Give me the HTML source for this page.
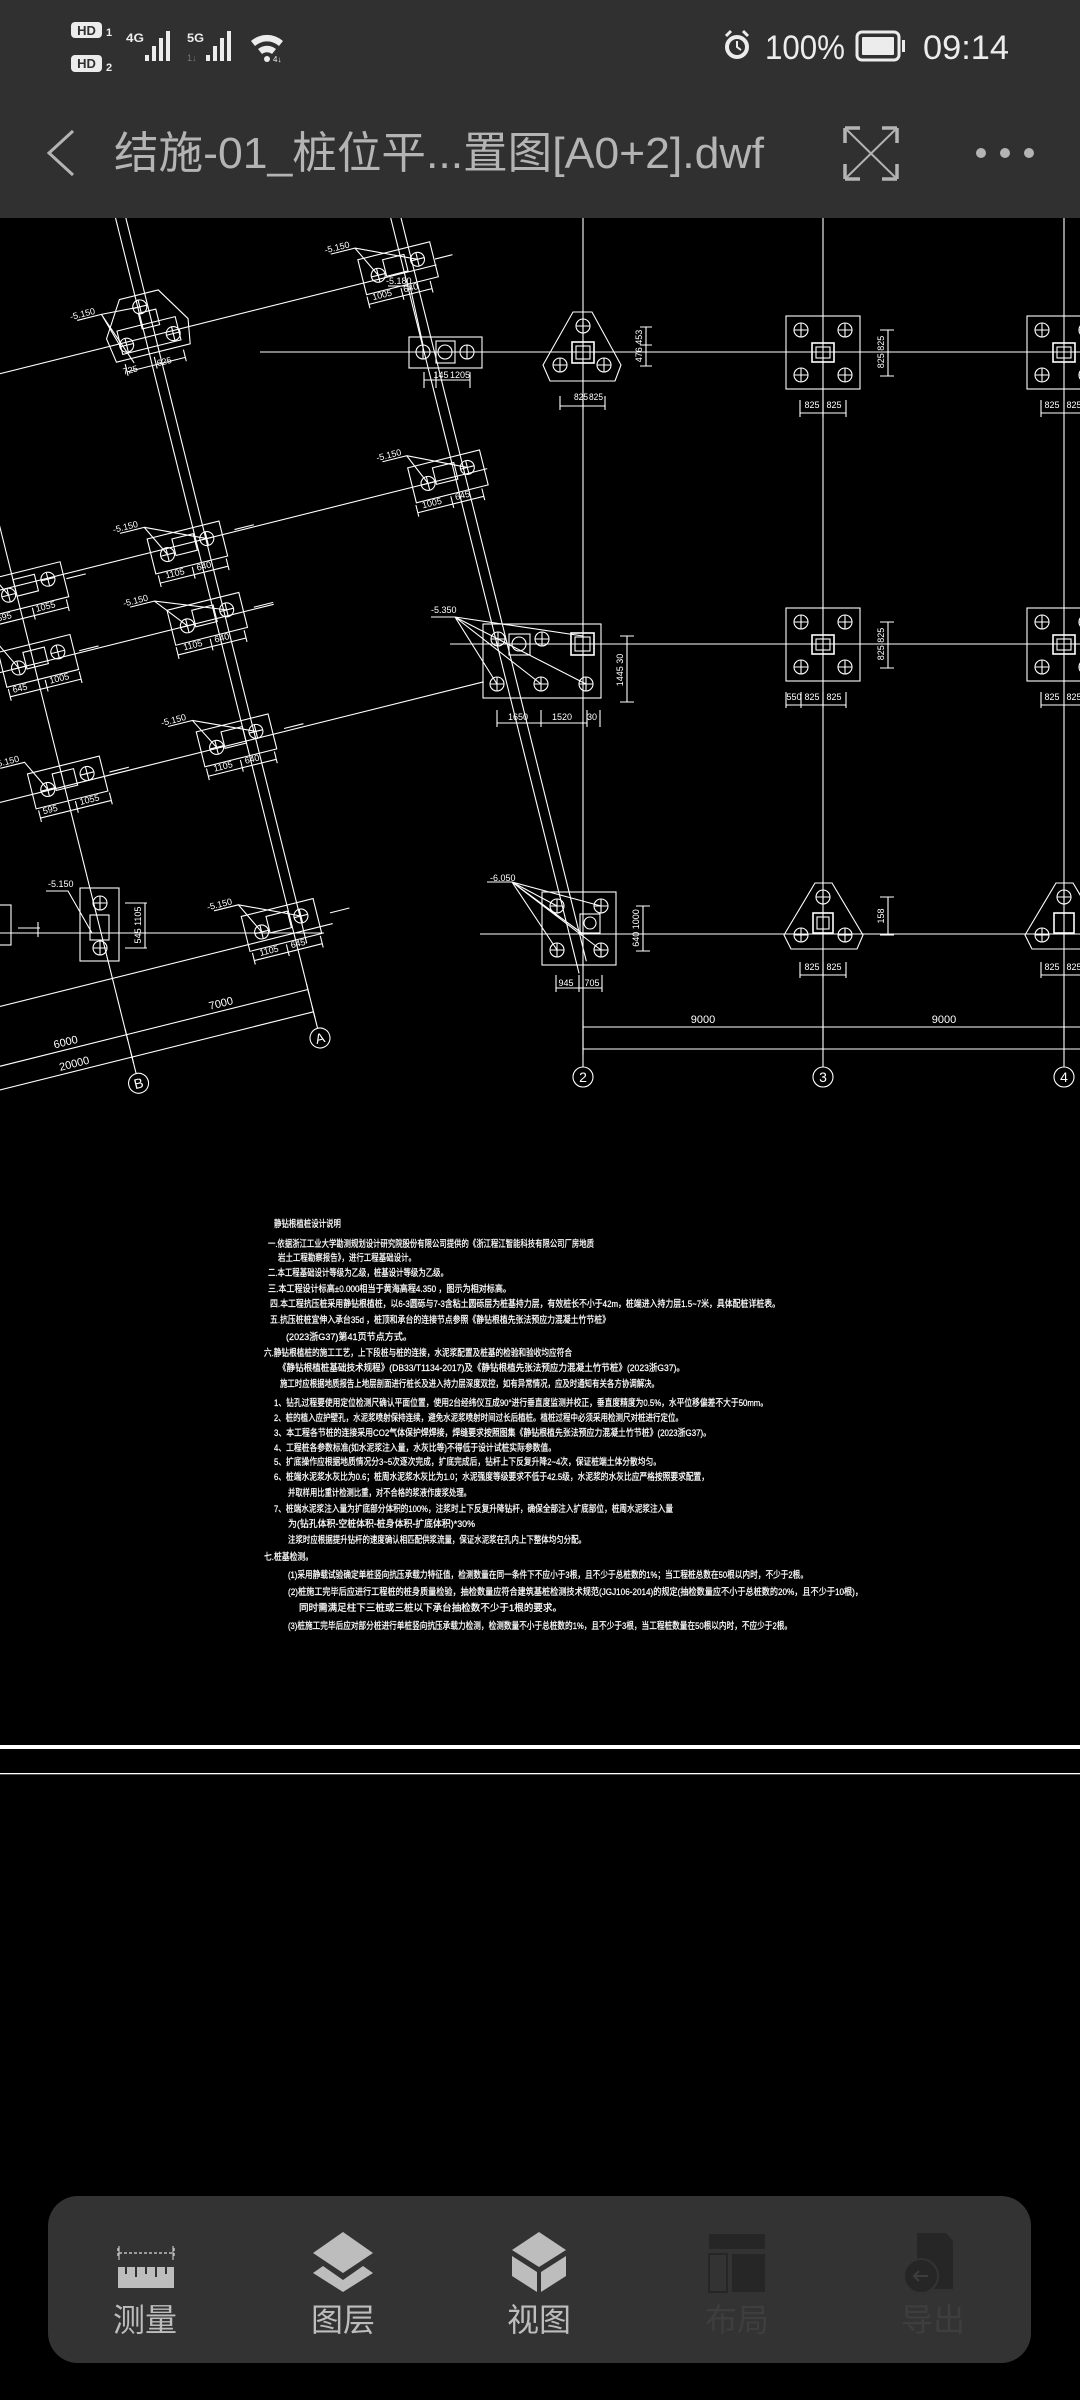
<!DOCTYPE html>
<html><head><meta charset="utf-8">
<style>
html,body{margin:0;padding:0;background:#000;}
svg{display:block;}
.t{font-family:"Liberation Sans","Noto Sans CJK SC",sans-serif;}
</style></head>
<body>
<svg width="1080" height="2400" viewBox="0 0 1080 2400" xmlns="http://www.w3.org/2000/svg">
<defs>
  <g id="pc" fill="none" stroke="#fff" stroke-width="1.1"><circle r="7"/><path d="M-7 0H7M0-7V7"/></g>
  <g id="cap" fill="none" stroke="#fff" stroke-width="1.1">
    <rect x="-37" y="-18" width="74" height="36"/>
    <rect x="-13" y="-12" width="22" height="17"/>
    <use href="#pc" x="-21" y="2"/>
    <use href="#pc" x="21" y="-4"/>
  </g>
  <g id="sq" fill="none" stroke="#fff" stroke-width="1.1">
    <rect x="-37" y="-36" width="74" height="73"/>
    <rect x="-11" y="-9" width="22" height="19" stroke-width="1.6"/>
    <rect x="-7" y="-5" width="14" height="11"/>
    <use href="#pc" x="-22" y="-22"/><use href="#pc" x="22" y="-22"/>
    <use href="#pc" x="-22" y="23"/><use href="#pc" x="22" y="23"/>
  </g>
  <g id="tri" fill="none" stroke="#fff" stroke-width="1.1">
    <polygon points="-10,-40 9,-40 38,13 32,29 -33,29 -40,13"/>
    <rect x="-11" y="-10" width="22" height="21" stroke-width="1.6"/>
    <rect x="-7" y="-6" width="14" height="13"/>
    <use href="#pc" x="0" y="-26"/><use href="#pc" x="-23" y="13"/><use href="#pc" x="21" y="13"/>
  </g>
</defs>

<rect x="0" y="0" width="1080" height="2400" fill="#000"/>

<g stroke="#fff" stroke-width="1.1" fill="none">
  <line x1="583" y1="218" x2="583" y2="1067"/>
  <line x1="823" y1="218" x2="823" y2="1067"/>
  <line x1="1064" y1="218" x2="1064" y2="1067"/>
  <line x1="260" y1="352" x2="1080" y2="352"/>
  <line x1="450" y1="644" x2="1080" y2="644"/>
  <line x1="0" y1="933" x2="324" y2="933"/>
  <line x1="480" y1="934" x2="1080" y2="934"/>
  <line x1="583" y1="1027" x2="1080" y2="1027"/>
  <line x1="583" y1="1049" x2="1080" y2="1049"/>
  <path d="M583 1020V1055M823 1020V1040M1064 1020V1040"/>
  <circle cx="583" cy="1077" r="10"/><circle cx="823" cy="1077" r="10"/><circle cx="1064" cy="1077" r="10"/>

  <use href="#tri" x="583" y="352"/>
  <use href="#sq" x="823" y="352"/>
  <use href="#sq" x="1064" y="352"/>
  <use href="#sq" x="823" y="644"/>
  <use href="#sq" x="1064" y="644"/>
  <g transform="translate(823,934)">
    <polygon points="-8,-51 9,-51 40,1 34,15 -32,15 -39,1"/>
    <rect x="-10" y="-21" width="20" height="20" stroke-width="1.6"/>
    <rect x="-6" y="-17" width="12" height="12"/>
    <use href="#pc" x="0" y="-37"/><use href="#pc" x="-22" y="1"/><use href="#pc" x="22" y="1"/>
  </g>
  <g transform="translate(1064,934)">
    <polygon points="-8,-51 9,-51 40,1 34,15 -32,15 -39,1"/>
    <rect x="-10" y="-21" width="20" height="20" stroke-width="1.6"/>
    <use href="#pc" x="0" y="-37"/><use href="#pc" x="-22" y="1"/>
  </g>

  <path d="M560 406H605M560 396V410M583 396V410M605 396V410"/>
  <path d="M646 327V366M640 327H652M640 345H652M640 366H652"/>
  <path d="M800 413H846M800 400V417M823 400V417M846 400V417"/>
  <path d="M1041 413H1080M1041 400V417"/>
  <path d="M888 330V376M880 330H894M880 352H894M880 376H894"/>
  <path d="M786 705H846M786 692V708M801 692V708M823 692V708M846 692V708"/>
  <path d="M1041 705H1080M1041 692V708"/>
  <path d="M888 622V668M880 622H894M880 644H894M880 668H894"/>
  <path d="M800 975H846M800 962V978M823 962V978M846 962V978"/>
  <path d="M1041 975H1080M1041 962V978"/>
  <path d="M888 897V935M880 897H894M880 935H894"/>

  <rect x="483" y="624" width="118" height="74"/>
  <rect x="571" y="633" width="23" height="22" stroke-width="1.6"/>
  <rect x="575" y="637" width="15" height="14"/>
  <rect x="509" y="634" width="21" height="21"/>
  <circle cx="519" cy="644" r="7"/>
  <use href="#pc" x="498" y="639"/><use href="#pc" x="542" y="639"/>
  <use href="#pc" x="497" y="684"/><use href="#pc" x="541" y="684"/><use href="#pc" x="586" y="684"/>
  <path d="M431 617H455M455 617L498 639M455 617L497 684M455 617L586 684M455 617L583 636M455 617L541 684"/>
  <path d="M497 723H587M497 710V727M541 710V727M587 710V727M600 710V727"/>
  <path d="M627 636V702M620 636H634M620 702H634"/>

  <rect x="542" y="892" width="74" height="73"/>
  <rect x="580" y="914" width="20" height="19"/>
  <circle cx="590" cy="923" r="6"/>
  <use href="#pc" x="557" y="906"/><use href="#pc" x="601" y="906"/>
  <use href="#pc" x="557" y="950"/><use href="#pc" x="601" y="950"/>
  <path d="M487 882H512M512 882L557 906M512 882L601 906M512 882L557 950M512 882L601 950M512 882L583 934"/>
  <path d="M556 988H602M556 975V992M579 975V992M602 975V992"/>
  <path d="M643 906V951M636 906H650M636 951H650"/>

  <rect x="409" y="337" width="73" height="31"/>
  <rect x="436" y="341" width="19" height="22"/>
  <circle cx="445" cy="352" r="7"/>
  <use href="#pc" x="423" y="352"/><use href="#pc" x="467" y="352"/>
  <path d="M424 380H470M424 372V388M436 372V388M470 372V388"/>
  <path d="M388 286H410L423 345"/>

  <rect x="80" y="888" width="39" height="73"/>
  <rect x="90" y="915" width="19" height="25"/>
  <use href="#pc" x="100" y="903"/><use href="#pc" x="100" y="948"/>
  <path d="M46 891H68L92 933M125 903H147M125 948H147M145 903V948"/>
  <rect x="-2" y="905" width="13" height="40"/>
  <path d="M18 928H40M38 922V937"/>
</g>

<g class="t" fill="#fff" font-size="9">
  <text x="574" y="400" textLength="14" lengthAdjust="spacingAndGlyphs">825</text>
  <text x="589" y="400" textLength="14" lengthAdjust="spacingAndGlyphs">825</text>
  <text x="812" y="408" text-anchor="middle">825</text><text x="834" y="408" text-anchor="middle">825</text>
  <text x="1052" y="408" text-anchor="middle">825</text><text x="1074" y="408" text-anchor="middle">825</text>
  <text x="794" y="700" text-anchor="middle">550</text><text x="812" y="700" text-anchor="middle">825</text><text x="834" y="700" text-anchor="middle">825</text>
  <text x="1052" y="700" text-anchor="middle">825</text><text x="1074" y="700" text-anchor="middle">825</text>
  <text x="812" y="970" text-anchor="middle">825</text><text x="834" y="970" text-anchor="middle">825</text>
  <text x="1052" y="970" text-anchor="middle">825</text><text x="1074" y="970" text-anchor="middle">825</text>
  <text transform="translate(884,352) rotate(-90)" text-anchor="middle">825 825</text>
  <text transform="translate(884,644) rotate(-90)" text-anchor="middle">825 825</text>
  <text transform="translate(884,916) rotate(-90)" text-anchor="middle">158</text>
  <text transform="translate(642,346) rotate(-90)" text-anchor="middle">476 453</text>
  <text transform="translate(623,670) rotate(-90)" text-anchor="middle">1445 30</text>
  <text transform="translate(639,928) rotate(-90)" text-anchor="middle">640 1000</text>
  <text transform="translate(141,925) rotate(-90)" text-anchor="middle">545 1105</text>
  <text x="518" y="720" text-anchor="middle">1650</text><text x="562" y="720" text-anchor="middle">1520</text><text x="592" y="720" text-anchor="middle">30</text>
  <text x="566" y="986" text-anchor="middle">945</text><text x="592" y="986" text-anchor="middle">705</text>
  <text x="441" y="378" text-anchor="middle">145</text><text x="460" y="378" text-anchor="middle">1205</text>
  <text x="431" y="613">-5.350</text>
  <text x="490" y="881">-6.050</text>
  <text x="386" y="284">-5.180</text>
  <text x="48" y="887">-5.150</text>
  <text x="703" y="1023" font-size="11" text-anchor="middle">9000</text>
  <text x="944" y="1023" font-size="11" text-anchor="middle">9000</text>
  <text x="583" y="1082" font-size="14" text-anchor="middle">2</text>
  <text x="823" y="1082" font-size="14" text-anchor="middle">3</text>
  <text x="1064" y="1082" font-size="14" text-anchor="middle">4</text>
</g>

<g transform="translate(320,1038) rotate(-14)">
  <g stroke="#fff" stroke-width="1.1" fill="none">
    <line x1="0" y1="-1000" x2="0" y2="-10"/>
    <line x1="10" y1="-1000" x2="10" y2="-95"/>
    <line x1="-187" y1="-1000" x2="-187" y2="-10"/>
    <line x1="267" y1="-1000" x2="267" y2="0"/>
    <line x1="277" y1="-1000" x2="277" y2="-10"/>
    <circle cx="0" cy="0" r="10"/>
    <circle cx="-187" cy="0" r="10"/>
    <line x1="-420" y1="-722" x2="300" y2="-722"/>
    <line x1="-420" y1="-512" x2="300" y2="-512"/>
    <line x1="-420" y1="-432" x2="60" y2="-432"/>
    <line x1="-420" y1="-306" x2="245" y2="-306"/>
    <line x1="-420" y1="-108" x2="40" y2="-108"/>
    <line x1="-420" y1="-50" x2="0" y2="-50"/>
    <line x1="-420" y1="-27" x2="0" y2="-27"/>
    <path d="M0 -56V-44M-187 -56V-44M0 -33V-21M-187 -33V-21"/>

    <use href="#cap" x="262" y="-728"/>
    <use href="#cap" x="260" y="-514"/>
    <use href="#cap" x="-10" y="-508"/>
    <use href="#cap" x="-174" y="-507"/>
    <use href="#cap" x="-8" y="-434"/>
    <use href="#cap" x="-182" y="-434"/>
    <use href="#cap" x="-9" y="-309"/>
    <use href="#cap" x="-183" y="-309"/>
    <use href="#cap" x="-10" y="-119"/>
    <g transform="translate(4,-725)">
      <polygon points="-20,-40 20,-40 42,-5 38,20 -38,20 -42,-5"/>
      <rect x="-30" y="-10" width="60" height="24"/>
      <rect x="-5" y="-22" width="18" height="16"/>
      <use href="#pc" x="-2" y="-28"/><use href="#pc" x="-24" y="6"/><use href="#pc" x="24" y="6"/>
      <path d="M-30 32H30M-30 24V36M0 24V36M30 24V36"/>
    </g>
    <path d="M200 -758H225L241 -726M225 -758L283 -732M200 -544H225L239 -512M225 -544L281 -518"/>
    <path d="M-72 -538H-47L-31 -506M-47 -538L11 -512M-80 -464H-55L-29 -432M-55 -464L13 -438M-72 -339H-47L-30 -307M-47 -339L12 -313M-72 -149H-47L-31 -117M-47 -149L11 -123"/>
    <path d="M-236 -537H-211L-195 -505M-244 -464H-219L-203 -432M-245 -339H-220L-204 -307"/>
    <path d="M-62 -755H-37L-26 -718M-37 -755L2 -753M-37 -755L-17 -700"/>
    <path d="M225 -700H290M225 -708V-696M260 -708V-696M290 -708V-696"/>
    <path d="M222 -486H290M222 -494V-482M258 -494V-482M290 -494V-482"/>
    <path d="M-45 -480H25M-45 -488V-476M-10 -488V-476M25 -488V-476"/>
    <path d="M-45 -406H25M-45 -414V-402M-10 -414V-402M25 -414V-402"/>
    <path d="M-45 -281H25M-45 -289V-277M-10 -289V-277M25 -289V-277"/>
    <path d="M-45 -91H25M-45 -99V-87M-10 -99V-87M25 -99V-87"/>
    <path d="M-215 -479H-140M-215 -487V-475M-175 -487V-475M-140 -487V-475"/>
    <path d="M-218 -406H-145M-218 -414V-402M-180 -414V-402M-145 -414V-402"/>
    <path d="M-218 -281H-145M-218 -289V-277M-180 -289V-277M-145 -289V-277"/>
    <path d="M40 -514H60M40 -434H60M40 -309H60M40 -119H60M-135 -507H-115M-140 -434H-120M-140 -309H-120M300 -728H318"/>
  </g>
  <g class="t" fill="#fff" font-size="9">
    <text x="195" y="-760">-5.150</text>
    <text x="195" y="-546">-5.150</text>
    <text x="-78" y="-540">-5.150</text>
    <text x="-86" y="-466">-5.150</text>
    <text x="-78" y="-341">-5.150</text>
    <text x="-78" y="-151">-5.150</text>
    <text x="-250" y="-341">-5.150</text>
    <text x="-68" y="-757">-5.150</text>
    <text x="230" y="-703">1005</text><text x="262" y="-703">640</text>
    <text x="228" y="-489">1005</text><text x="262" y="-489">645</text>
    <text x="-38" y="-483">1105</text><text x="-6" y="-483">640</text>
    <text x="-38" y="-409">1105</text><text x="-6" y="-409">640</text>
    <text x="-38" y="-284">1105</text><text x="-6" y="-284">640</text>
    <text x="-38" y="-94">1105</text><text x="-6" y="-94">645</text>
    <text x="-212" y="-482">595</text><text x="-172" y="-482">1055</text>
    <text x="-214" y="-409">645</text><text x="-176" y="-409">1005</text>
    <text x="-214" y="-284">595</text><text x="-176" y="-284">1055</text>
    <text x="-30" y="-691">725</text><text x="5" y="-691">625</text>
    <text x="-100" y="-54" font-size="11">7000</text>
    <text x="-260" y="-54" font-size="11">6000</text>
    <text x="-260" y="-31" font-size="11">20000</text>
    <text x="0" y="5" font-size="14" text-anchor="middle">A</text>
    <text x="-187" y="5" font-size="14" text-anchor="middle">B</text>
  </g>
</g>

<g class="t" fill="#fff" font-size="9.5" stroke="#fff" stroke-width="0.25">
  <text x="274" y="1227" textLength="67" lengthAdjust="spacingAndGlyphs">静钻根植桩设计说明</text>
  <text x="268" y="1247" textLength="326" lengthAdjust="spacingAndGlyphs">一.依据浙江工业大学勘测规划设计研究院股份有限公司提供的《浙江程江智能科技有限公司厂房地质</text>
  <text x="278" y="1261" textLength="138" lengthAdjust="spacingAndGlyphs">岩土工程勘察报告》，进行工程基础设计。</text>
  <text x="268" y="1276" textLength="180" lengthAdjust="spacingAndGlyphs">二.本工程基础设计等级为乙级，桩基设计等级为乙级。</text>
  <text x="268" y="1292" textLength="243" lengthAdjust="spacingAndGlyphs">三.本工程设计标高±0.000相当于黄海高程4.350 ，图示为相对标高。</text>
  <text x="270" y="1307" textLength="510" lengthAdjust="spacingAndGlyphs">四.本工程抗压桩采用静钻根植桩，以6-3圆砾与7-3含粘土圆砾层为桩基持力层，有效桩长不小于42m，桩端进入持力层1.5~7米，具体配桩详桩表。</text>
  <text x="270" y="1323" textLength="340" lengthAdjust="spacingAndGlyphs">五.抗压桩桩宜伸入承台35d ，桩顶和承台的连接节点参照《静钻根植先张法预应力混凝土竹节桩》</text>
  <text x="286" y="1340" textLength="126" lengthAdjust="spacingAndGlyphs">(2023浙G37)第41页节点方式。</text>
  <text x="264" y="1356" textLength="308" lengthAdjust="spacingAndGlyphs">六.静钻根植桩的施工工艺，上下段桩与桩的连接，水泥浆配置及桩基的检验和验收均应符合</text>
  <text x="278" y="1371" textLength="407" lengthAdjust="spacingAndGlyphs">《静钻根植桩基础技术规程》(DB33/T1134-2017)及《静钻根植先张法预应力混凝土竹节桩》(2023浙G37)。</text>
  <text x="280" y="1387" textLength="379" lengthAdjust="spacingAndGlyphs">施工时应根据地质报告上地层剖面进行桩长及进入持力层深度双控，如有异常情况，应及时通知有关各方协调解决。</text>
  <text x="274" y="1406" textLength="494" lengthAdjust="spacingAndGlyphs">1、钻孔过程要使用定位检测尺确认平面位置，使用2台经纬仪互成90°进行垂直度监测并校正，垂直度精度为0.5%，水平位移偏差不大于50mm。</text>
  <text x="274" y="1421" textLength="409" lengthAdjust="spacingAndGlyphs">2、桩的植入应护壁孔，水泥浆喷射保持连续，避免水泥浆喷射时间过长后植桩。植桩过程中必须采用检测尺对桩进行定位。</text>
  <text x="274" y="1436" textLength="437" lengthAdjust="spacingAndGlyphs">3、本工程各节桩的连接采用CO2气体保护焊焊接，焊缝要求按照图集《静钻根植先张法预应力混凝土竹节桩》(2023浙G37)。</text>
  <text x="274" y="1451" textLength="282" lengthAdjust="spacingAndGlyphs">4、工程桩各参数标准(如水泥浆注入量，水灰比等)不得低于设计试桩实际参数值。</text>
  <text x="274" y="1465" textLength="387" lengthAdjust="spacingAndGlyphs">5、扩底操作应根据地质情况分3~5次逐次完成，扩底完成后，钻杆上下反复升降2~4次，保证桩端土体分散均匀。</text>
  <text x="274" y="1480" textLength="435" lengthAdjust="spacingAndGlyphs">6、桩端水泥浆水灰比为0.6；桩周水泥浆水灰比为1.0；水泥强度等级要求不低于42.5级，水泥浆的水灰比应严格按照要求配置，</text>
  <text x="288" y="1496" textLength="183" lengthAdjust="spacingAndGlyphs">并取样用比重计检测比重，对不合格的浆液作废浆处理。</text>
  <text x="274" y="1512" textLength="399" lengthAdjust="spacingAndGlyphs">7、桩端水泥浆注入量为扩底部分体积的100%，注浆时上下反复升降钻杆，确保全部注入扩底部位，桩周水泥浆注入量</text>
  <text x="288" y="1527" textLength="187" lengthAdjust="spacingAndGlyphs">为(钻孔体积-空桩体积-桩身体积-扩底体积)*30%</text>
  <text x="288" y="1543" textLength="298" lengthAdjust="spacingAndGlyphs">注浆时应根据提升钻杆的速度确认相匹配供浆流量，保证水泥浆在孔内上下整体均匀分配。</text>
  <text x="264" y="1560" textLength="49" lengthAdjust="spacingAndGlyphs">七.桩基检测。</text>
  <text x="288" y="1578" textLength="520" lengthAdjust="spacingAndGlyphs">(1)采用静载试验确定单桩竖向抗压承载力特征值，检测数量在同一条件下不应小于3根，且不少于总桩数的1%；当工程桩总数在50根以内时，不少于2根。</text>
  <text x="288" y="1595" textLength="575" lengthAdjust="spacingAndGlyphs">(2)桩施工完毕后应进行工程桩的桩身质量检验，抽检数量应符合建筑基桩检测技术规范(JGJ106-2014)的规定(抽检数量应不小于总桩数的20%，且不少于10根)，</text>
  <text x="299" y="1611" textLength="263" lengthAdjust="spacingAndGlyphs">同时需满足柱下三桩或三桩以下承台抽检数不少于1根的要求。</text>
  <text x="288" y="1629" textLength="504" lengthAdjust="spacingAndGlyphs">(3)桩施工完毕后应对部分桩进行单桩竖向抗压承载力检测，检测数量不小于总桩数的1%，且不少于3根，当工程桩数量在50根以内时，不应少于2根。</text>
</g>

<rect x="0" y="1745" width="1080" height="4" fill="#fff"/>
<rect x="0" y="1773" width="1080" height="1.3" fill="#fff"/>

<rect x="0" y="0" width="1080" height="218" fill="#303030"/>
<g fill="#ececec">
  <rect x="71" y="22" width="31" height="16" rx="4"/>
  <rect x="71" y="55" width="31" height="17" rx="4"/>
  <text x="86.5" y="35" font-family="Liberation Sans" font-weight="bold" font-size="13" fill="#303030" text-anchor="middle">HD</text>
  <text x="86.5" y="68" font-family="Liberation Sans" font-weight="bold" font-size="13" fill="#303030" text-anchor="middle">HD</text>
  <text x="106" y="36" font-family="Liberation Sans" font-weight="bold" font-size="11">1</text>
  <text x="106" y="71" font-family="Liberation Sans" font-weight="bold" font-size="11">2</text>
  <text x="126" y="42" font-family="Liberation Sans" font-weight="bold" font-size="12" textLength="18" lengthAdjust="spacingAndGlyphs">4G</text>
  <rect x="145" y="55" width="4" height="6"/><rect x="152" y="46" width="4" height="15"/><rect x="159" y="38" width="4" height="23"/><rect x="166" y="31" width="4" height="30"/>
  <text x="187" y="42" font-family="Liberation Sans" font-weight="bold" font-size="12" textLength="17" lengthAdjust="spacingAndGlyphs">5G</text>
  <text x="187" y="61" font-family="Liberation Sans" font-size="9" fill="#777">1↓</text>
  <rect x="206" y="55" width="4" height="6"/><rect x="213" y="46" width="4" height="15"/><rect x="220" y="38" width="4" height="23"/><rect x="227" y="31" width="4" height="30"/>
  <path d="M251 41 A24 24 0 0 1 283 41 L279 46 A18 18 0 0 0 255 46Z"/>
  <path d="M258 49 A14 14 0 0 1 276 49 L272 54 A8 8 0 0 0 262 54Z"/>
  <circle cx="267" cy="59" r="3"/>
  <text x="273" y="62" font-family="Liberation Sans" font-size="8">4↓</text>
  <circle cx="737" cy="47" r="10" fill="none" stroke="#ececec" stroke-width="4"/>
  <path d="M737 41V47L741 50" stroke="#ececec" stroke-width="2" fill="none"/>
  <path d="M726 36l5-5M748 36l-5-5" stroke="#ececec" stroke-width="3"/>
  <text x="765" y="59" font-family="Liberation Sans" font-size="34" textLength="80" lengthAdjust="spacingAndGlyphs">100%</text>
  <rect x="857" y="32" width="42" height="28" rx="5" fill="none" stroke="#ececec" stroke-width="3"/>
  <rect x="862" y="37" width="32" height="18" rx="1"/>
  <rect x="902" y="40" width="3" height="12"/>
  <text x="923" y="59" font-family="Liberation Sans" font-size="34" textLength="86" lengthAdjust="spacingAndGlyphs">09:14</text>
</g>
<path d="M73 131L49 153L73 175" fill="none" stroke="#b4b4b4" stroke-width="3"/>
<text x="114" y="168" class="t" font-size="44" fill="#b4b4b4" textLength="650" lengthAdjust="spacingAndGlyphs">结施-01_桩位平...置图[A0+2].dwf</text>
<g stroke="#b4b4b4" stroke-width="3.5" fill="none">
  <path d="M845 128H860M845 128V143M897 128H882M897 128V143M845 179H860M845 179V164M897 179H882M897 179V164"/>
  <path d="M847 130L895 177M895 130L847 177" stroke-width="2"/>
</g>
<g fill="#b4b4b4"><circle cx="981" cy="153" r="5"/><circle cx="1005" cy="153" r="5"/><circle cx="1029" cy="153" r="5"/></g>

<rect x="48" y="2196" width="983" height="167" rx="30" fill="#333"/>
<g fill="#bdbdbd">
  <path d="M118 2248V2258M174 2248V2258M119 2253H173" stroke="#bdbdbd" stroke-width="1.5" stroke-dasharray="3 2" fill="none"/>
  <path d="M119 2246V2260M173 2246V2260" stroke="#bdbdbd" stroke-width="1.2" fill="none"/>
  <rect x="118" y="2267" width="56" height="21"/>
  <path d="M126 2267V2274M136 2267V2277M146 2267V2274M156 2267V2277M166 2267V2274" stroke="#333" stroke-width="2"/>
  <polygon points="343,2232 373,2253 343,2273 313,2253"/>
  <polygon points="323,2266 343,2280 363,2266 373,2273 343,2292 313,2273"/>
  <polygon points="539,2232 566,2250 539,2267 512,2250"/>
  <polygon points="512,2256 537,2272 537,2292 512,2276"/>
  <polygon points="566,2256 541,2272 541,2292 566,2276"/>
</g>
<g fill="#262626">
  <rect x="709" y="2234" width="56" height="15"/>
  <rect x="709" y="2254" width="18" height="38" fill="none" stroke="#262626" stroke-width="2"/>
  <rect x="732" y="2254" width="33" height="38"/>
  <path d="M917 2233H946L953 2241V2289H917Z"/>
  <circle cx="921" cy="2276" r="17" stroke="#333" stroke-width="2"/>
  <path d="M928 2276H914M919 2271L914 2276L919 2281" stroke="#3d3d3d" stroke-width="2" fill="none"/>
</g>
<g class="t" font-size="32" text-anchor="middle">
  <text x="145" y="2331" fill="#bdbdbd">测量</text>
  <text x="343" y="2331" fill="#bdbdbd">图层</text>
  <text x="539" y="2331" fill="#bdbdbd">视图</text>
  <text x="737" y="2331" fill="#3e3e3e">布局</text>
  <text x="933" y="2331" fill="#3e3e3e">导出</text>
</g>
</svg>
</body></html>
